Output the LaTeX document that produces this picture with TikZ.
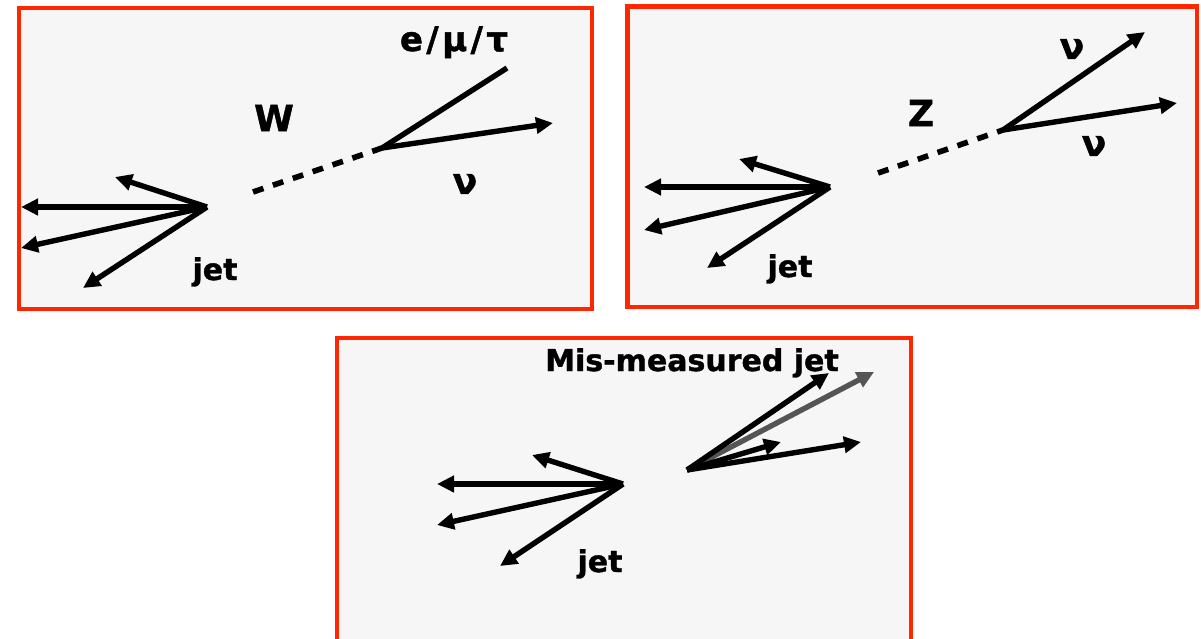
\documentclass[tikz,border=0pt]{standalone}
\usepackage{fontspec}
\setmainfont{DejaVu Sans}
\usetikzlibrary{arrows.meta}
\definecolor{panelred}{RGB}{255,38,0}
\definecolor{panelfill}{RGB}{246,246,246}
\definecolor{misgray}{RGB}{85,85,85}
\begin{document}
\begin{tikzpicture}[x=1pt,y=-1pt,
  panel/.style={draw=panelred,fill=panelfill,line width=4.5pt},
  vec/.style={line width=5.4pt,-{Triangle[length=17pt,width=16pt]}},
  bare/.style={line width=5.4pt},
  prop/.style={line width=5.6pt,dash pattern=on 11pt off 10pt},
  lab/.style={font=\fontsize{30}{34}\selectfont\bfseries\addfontfeature{FakeBold=1.2},inner sep=0pt},
  biglab/.style={lab,font=\fontsize{36}{40}\selectfont\bfseries\addfontfeature{FakeBold=1.2}}]
\useasboundingbox (0,0) rectangle (1201,638);
\clip (0,0) rectangle (1201,638);
% panels
\draw[panel] (19,8) rectangle (592,309);
\draw[panel] (627.5,6.5) rectangle (1197,307);
\draw[panel] (337,338) rectangle (911,660);
% ---- panel 1 : W
\coordinate (j1) at (207,207);
\coordinate (j1a) at (21,207);
\coordinate (j1b) at (21,248);
\coordinate (j1c) at (83,288);
\coordinate (j1d) at (115,177);
\draw[vec] (j1) -- (j1a);
\draw[vec] (j1) -- (j1b);
\draw[vec] (j1) -- (j1c);
\draw[vec] (j1) -- (j1d);
\coordinate (w1s) at (253,192);
\coordinate (w1) at (382,148);
\coordinate (lep) at (507,68);
\coordinate (nu1) at (553,123);
\draw[prop] (w1s) -- (w1);
\draw[bare] (w1) -- (lep);
\draw[vec] (w1) -- (nu1);
\node[biglab] (lw) at (274,118) {W};
\node[lab,anchor=base,font=\fontsize{34}{38}\selectfont\bfseries\addfontfeature{FakeBold=1.2,LetterSpace=10}] (lemt) at (454,51) {e/μ/τ};
\node[biglab] (lnu1) at (465,184) {ν};
\node[lab,anchor=base] (ljet1) at (215,280) {jet};
% ---- panel 2 : Z
\coordinate (j2) at (830,187);
\coordinate (j2a) at (644,187);
\coordinate (j2b) at (644,230);
\coordinate (j2c) at (707,268);
\coordinate (j2d) at (739,159);
\draw[vec] (j2) -- (j2a);
\draw[vec] (j2) -- (j2b);
\draw[vec] (j2) -- (j2c);
\draw[vec] (j2) -- (j2d);
\coordinate (z2s) at (878,173);
\coordinate (z2) at (1003,130);
\coordinate (nu2a) at (1145,32);
\coordinate (nu2b) at (1177,103);
\draw[prop] (z2s) -- (z2);
\draw[vec] (z2) -- (nu2a);
\draw[vec] (z2) -- (nu2b);
\node[biglab] (lz) at (921,113) {Z};
\node[biglab] (lnu2a) at (1072,49) {ν};
\node[biglab] (lnu2b) at (1094,146) {ν};
\node[lab,anchor=base] (ljet2) at (790,277) {jet};
% ---- panel 3 : mis-measured jet
\coordinate (j3) at (623,484);
\coordinate (j3a) at (437,484);
\coordinate (j3b) at (437,525);
\coordinate (j3c) at (500,566);
\coordinate (j3d) at (532,455);
\draw[vec] (j3) -- (j3a);
\draw[vec] (j3) -- (j3b);
\draw[vec] (j3) -- (j3c);
\draw[vec] (j3) -- (j3d);
\coordinate (m3) at (687,470);
\coordinate (m3g) at (874,372);
\coordinate (m3a) at (829,373);
\coordinate (m3b) at (781,442);
\coordinate (m3c) at (861,442);
\draw[vec,draw=misgray,fill=misgray] (m3) -- (m3g);
\draw[vec] (m3) -- (m3a);
\draw[vec] (m3) -- (m3b);
\draw[vec] (m3) -- (m3c);
\node[lab,anchor=base] (lmis) at (692,371) {Mis-measured jet};
\node[lab,anchor=base] (ljet3) at (600,572) {jet};
\end{tikzpicture}
\end{document}
